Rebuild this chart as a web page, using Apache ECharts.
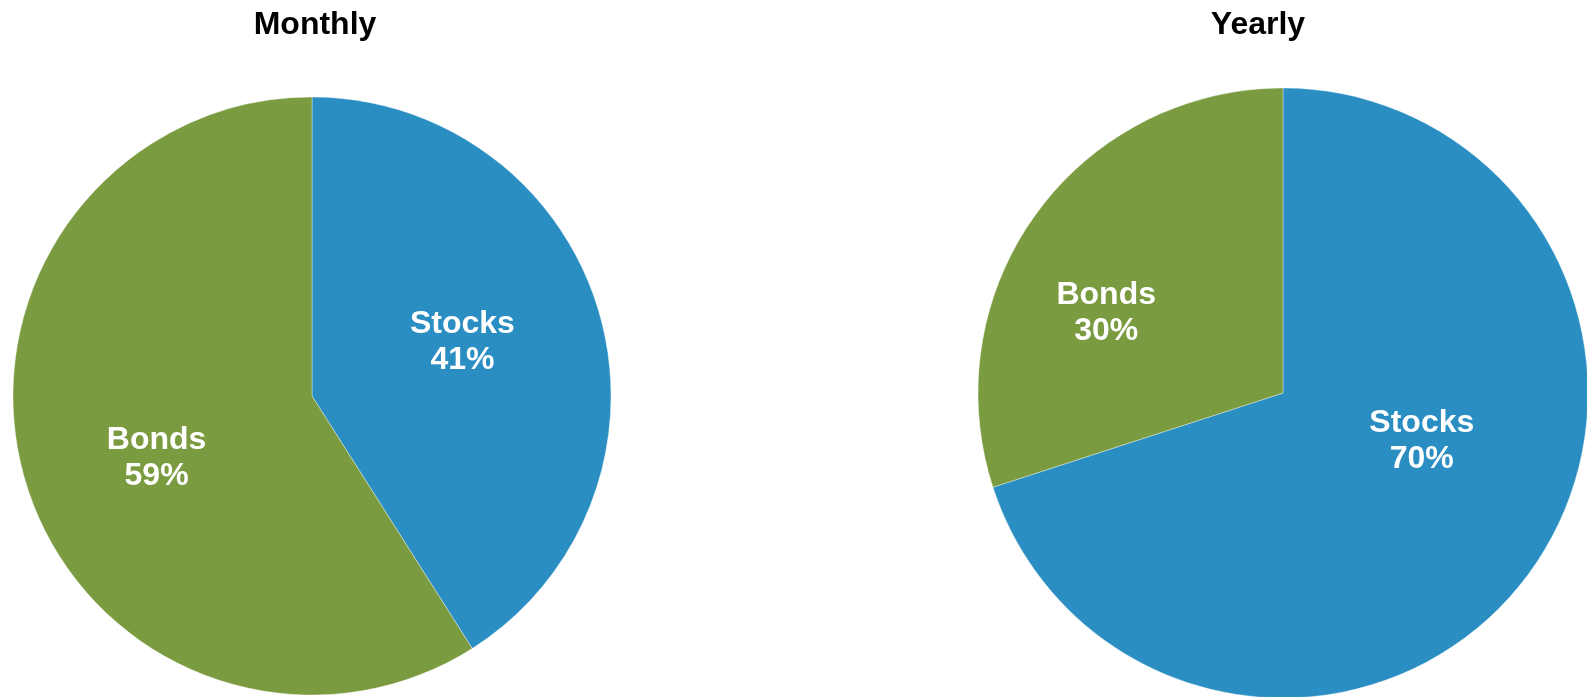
<!DOCTYPE html>
<html>
<head>
<meta charset="utf-8">
<script src="https://cdn.jsdelivr.net/npm/echarts@6/dist/echarts.min.js"></script>
<style>
html,body{margin:0;padding:0;background:#fff;}
#chart{width:1587px;height:697px;}
</style>
</head>
<body>
<div id="chart"></div>
<script>
const categories = ['Stocks', 'Bonds'];
const monthlyValues = [41, 59];
const yearlyValues = [70, 30];
const chartTitles = ['Monthly', 'Yearly'];

const colors = ['#2a8ec2', '#7a9b40'];
const FONT = "'Liberation Sans', Arial, Helvetica, sans-serif";
// label nudges (layout only): [series][dataIndex] -> [dx, dy]
const labelNudge = [
  [[4, -11], [-9, 20]],
  [[13, -43], [-51, 12]]
];

const chart = echarts.init(document.getElementById('chart'));

function pieSeries(values, center, radius, idx) {
  return {
    type: 'pie',
    center: center,
    radius: radius,
    startAngle: 90,
    clockwise: true,
    silent: true,
    percentPrecision: 0,
    color: colors,
    itemStyle: { borderColor: 'rgba(255,255,255,0.6)', borderWidth: 0.6 },
    label: {
      show: true,
      position: 'inside',
      formatter: '{b}\n{d}%',
      color: '#ffffff',
      fontFamily: FONT,
      fontWeight: 'bold',
      fontSize: 32,
      lineHeight: 36,
      align: 'center'
    },
    labelLine: { show: false },
    labelLayout: function (p) {
      const n = labelNudge[idx][p.dataIndex];
      return { dx: n[0], dy: n[1] };
    },
    data: categories.map((c, i) => ({ name: c, value: values[i] }))
  };
}

chart.setOption({
  animation: false,
  backgroundColor: '#ffffff',
  title: [
    { text: chartTitles[0], left: 310, top: 4, textAlign: 'center',
      textStyle: { fontFamily: FONT, fontWeight: 'bold', fontSize: 32, color: '#000' } },
    { text: chartTitles[1], left: 1253, top: 4, textAlign: 'center',
      textStyle: { fontFamily: FONT, fontWeight: 'bold', fontSize: 32, color: '#000' } }
  ],
  series: [
    pieSeries(monthlyValues, [312, 396], 299, 0),
    pieSeries(yearlyValues, [1283, 393], 305, 1)
  ]
});
</script>
</body>
</html>
